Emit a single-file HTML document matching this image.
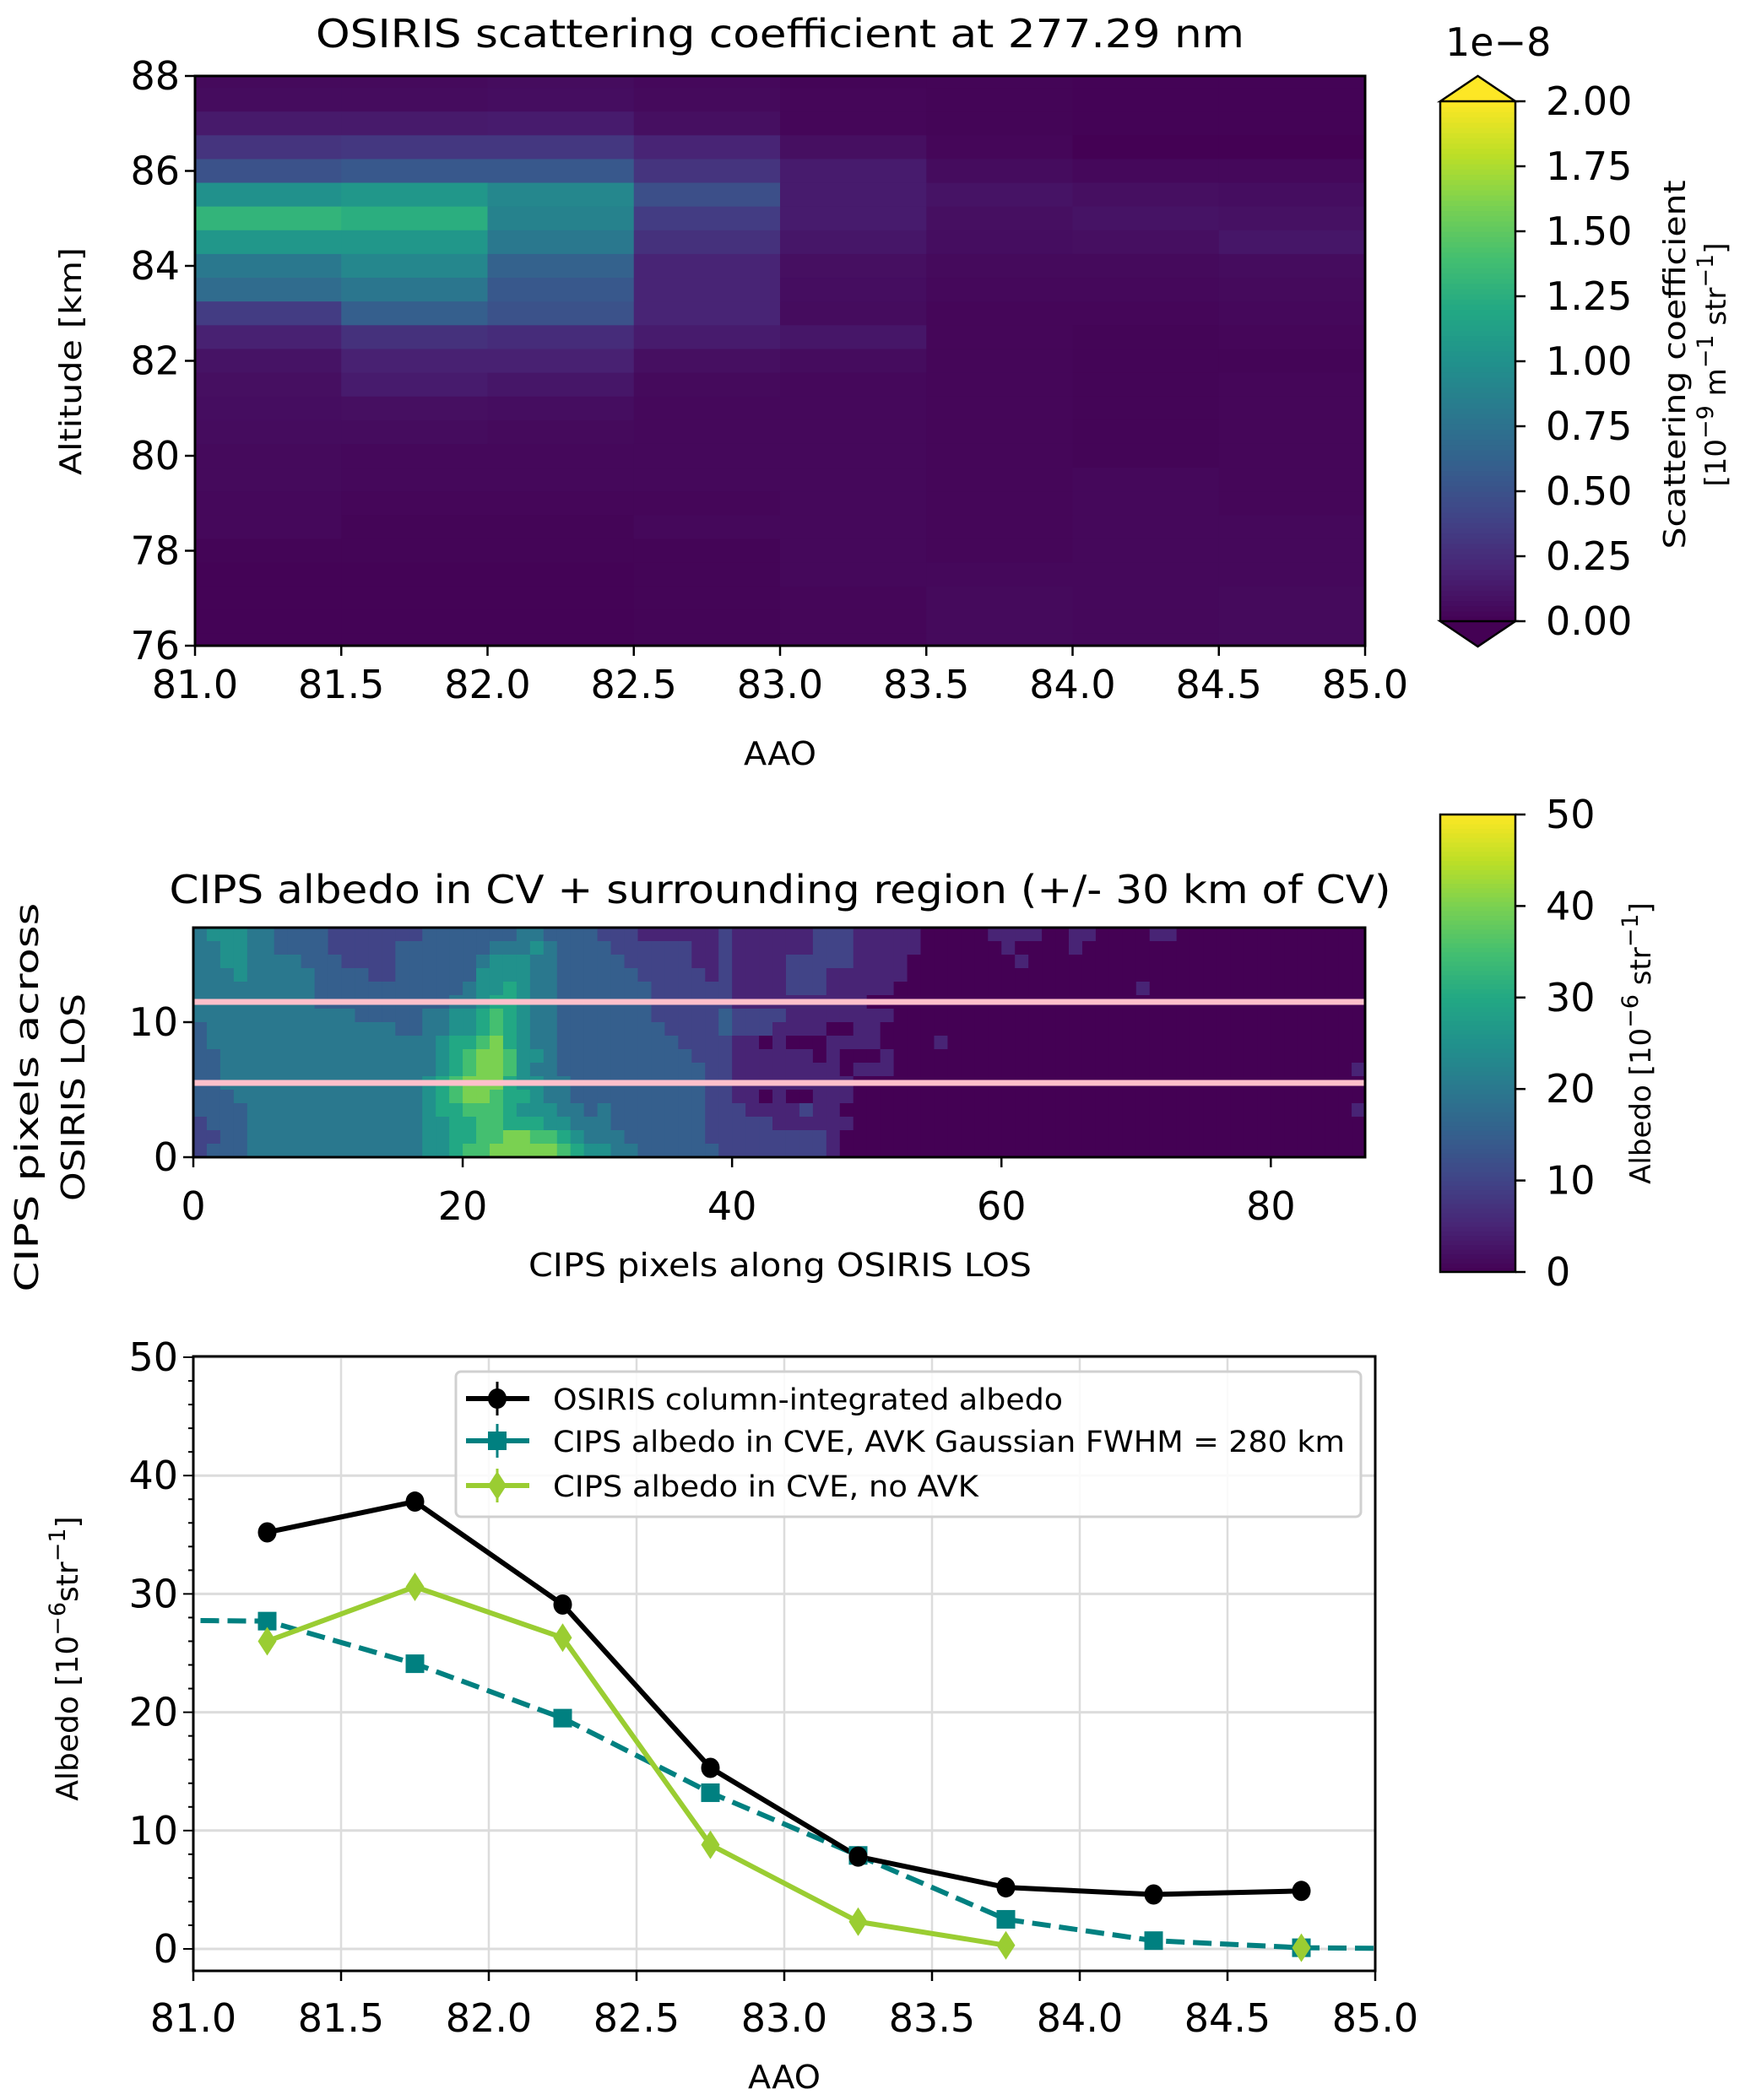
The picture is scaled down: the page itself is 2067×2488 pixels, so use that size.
<!DOCTYPE html>
<html><head><meta charset="utf-8">
<style>
html,body{margin:0;padding:0;background:#fff;}
svg{display:block;font-family:"DejaVu Sans","Liberation Sans",sans-serif;}
</style></head>
<body>
<svg id="fig" width="2067" height="2488" viewBox="0 0 2067 2488" xmlns="http://www.w3.org/2000/svg"></svg>
<script>
// ---------- DATA ----------
const topXEdges = [81.0,81.5,82.0,82.5,83.0,83.5,84.0,84.5,85.0];
const topAltEdges = [88,87.75,87.25,86.75,86.25,85.75,85.25,84.75,84.25,83.75,83.25,82.75,82.25,81.75,81.25,80.75,80.25,79.75,79.25,78.75,78.25,77.75,77.25,76.75,76.25,76];
const topValues = [
 [0.05,0.05,0.06,0.04,0.02,0.02,0.01,0.01],
 [0.06,0.06,0.07,0.05,0.03,0.02,0.01,0.01],
 [0.14,0.14,0.15,0.08,0.03,0.02,0.01,0.01],
 [0.30,0.32,0.32,0.20,0.08,0.03,0.00,0.00],
 [0.50,0.55,0.55,0.30,0.15,0.06,0.04,0.04],
 [1.00,1.05,0.92,0.48,0.15,0.10,0.08,0.07],
 [1.30,1.25,0.88,0.35,0.15,0.08,0.10,0.09],
 [1.05,1.05,0.80,0.28,0.12,0.07,0.08,0.12],
 [0.80,0.92,0.62,0.20,0.08,0.05,0.05,0.06],
 [0.70,0.78,0.55,0.20,0.07,0.04,0.04,0.05],
 [0.35,0.60,0.50,0.20,0.06,0.03,0.03,0.04],
 [0.18,0.28,0.25,0.15,0.12,0.03,0.02,0.03],
 [0.10,0.18,0.18,0.08,0.06,0.03,0.02,0.02],
 [0.08,0.15,0.12,0.05,0.04,0.03,0.02,0.03],
 [0.07,0.08,0.07,0.04,0.04,0.03,0.02,0.03],
 [0.06,0.06,0.05,0.04,0.04,0.03,0.02,0.03],
 [0.05,0.04,0.04,0.04,0.04,0.03,0.02,0.03],
 [0.05,0.04,0.04,0.04,0.04,0.03,0.04,0.03],
 [0.04,0.03,0.03,0.03,0.04,0.03,0.04,0.03],
 [0.04,0.02,0.02,0.04,0.04,0.03,0.04,0.04],
 [0.02,0.02,0.02,0.02,0.04,0.03,0.04,0.04],
 [0.01,0.01,0.01,0.02,0.04,0.04,0.04,0.04],
 [0.01,0.01,0.01,0.02,0.03,0.05,0.04,0.05],
 [0.01,0.01,0.01,0.02,0.03,0.05,0.04,0.05],
 [0.01,0.01,0.01,0.02,0.03,0.05,0.04,0.05]
];
const topCbTicks = ["0.00","0.25","0.50","0.75","1.00","1.25","1.50","1.75","2.00"];
const topXTicks = ["81.0","81.5","82.0","82.5","83.0","83.5","84.0","84.5","85.0"];
const topYTicks = [76,78,80,82,84,86,88];

// Mid heatmap: digit d means d*5 (10^-6 str^-1); rows from top (row 16) to bottom (row 0); 87 columns
const midRowsLeft = [
 "4555443333"+"2222222333"+"3333443333"+"222111111",
 "4455443333"+"2222233333"+"3344454333"+"322222211",
 "4455444433"+"3222233333"+"3455544333"+"332222211",
 "4445444443"+"3332233333"+"3555544333"+"333222221",
 "4444444443"+"3333333333"+"4556544333"+"333322222",
 "4444444443"+"3333333334"+"4566544333"+"333322222",
 "4444444444"+"4433333445"+"5676544333"+"333322222",
 "3444444444"+"4444433445"+"5676544333"+"333332222",
 "3444444444"+"4444444456"+"6786544333"+"333333222",
 "3344444444"+"4444444456"+"7887554333"+"333333322",
 "3344444444"+"4444444456"+"7887544333"+"333333332",
 "3344444444"+"4444444567"+"8886554433"+"333333332",
 "3334444444"+"4444444567"+"8876654433"+"333333332",
 "3333444444"+"4444444566"+"7776555443"+"433333332",
 "2333444444"+"4444444556"+"6776665544"+"433333332",
 "2233444444"+"4444444556"+"6778877654"+"443333332",
 "2333444444"+"4444444556"+"7788888765"+"544333333"
];
const midRowsRight = [
 "211111122211"+"111000001111"+"001100001100"+"000000000000",
 "211111122211"+"111000000100"+"001000000000"+"000000000000",
 "211112222211"+"110000000010"+"000000000000"+"000000000000",
 "211112221111"+"110000000000"+"000000000000"+"000000000000",
 "211112221111"+"100000000000"+"000000010000"+"000000000000",
 "211111111110"+"000000000000"+"000000000000"+"000000000000",
 "322221111111"+"100000000000"+"000000000000"+"000000000000",
 "322211110011"+"000000000000"+"000000000000"+"000000000000",
 "211010001111"+"000010000000"+"000000000000"+"000000000000",
 "211111101000"+"100000000000"+"000000000000"+"000000000000",
 "211111111011"+"100000000000"+"000000000000"+"000000000001",
 "211111111100"+"000000000000"+"000000000000"+"000000000000",
 "211010011100"+"000000000000"+"000000000000"+"000000000000",
 "221111211000"+"000000000000"+"000000000000"+"000000000001",
 "222211111100"+"000000000000"+"000000000000"+"000000000000",
 "222222221000"+"000000000000"+"000000000000"+"000000000000",
 "222222221000"+"000000000000"+"000000000000"+"000000000000"
];
const midXTicks = [0,20,40,60,80];
const midYTicks = [0,10];
const midCbTicks = [0,10,20,30,40,50];
const midPinkLines = [11.5,5.5];

// Bottom line chart
const aao = [81.25,81.75,82.25,82.75,83.25,83.75,84.25,84.75];
const osirisAlbedo = [35.2,37.8,29.1,15.3,7.8,5.2,4.6,4.9];
const cipsAvkX = [80.75,81.25,81.75,82.25,82.75,83.25,83.75,84.25,84.75,85.25];
const cipsAvk = [27.8,27.7,24.1,19.5,13.2,7.9,2.5,0.7,0.1,0.0];
const cipsNoAvk = [26.0,30.6,26.3,8.8,2.3,0.3,null,0.1];
const botXTicks = ["81.0","81.5","82.0","82.5","83.0","83.5","84.0","84.5","85.0"];
const botYTicks = [0,10,20,30,40,50];

// ---------- HELPERS ----------
const NS="http://www.w3.org/2000/svg";
const svg=document.getElementById('fig');
function mk(tag,attrs,parent){const e=document.createElementNS(NS,tag);for(const k in attrs)e.setAttribute(k,attrs[k]);(parent||svg).appendChild(e);return e;}
function txt(s,attrs,parent){const e=mk('text',attrs,parent);e.textContent=s;return e;}
const VIR=["#440154","#482475","#414487","#355f8d","#2a788e","#21918c","#22a884","#44bf70","#7ad151","#bddf26","#fde725"];
function hx(c){return [parseInt(c.substr(1,2),16),parseInt(c.substr(3,2),16),parseInt(c.substr(5,2),16)];}
function viridis(t){t=Math.max(0,Math.min(1,t));const p=t*10;const i=Math.min(9,Math.floor(p));const f=p-i;const a=hx(VIR[i]),b=hx(VIR[i+1]);
 return "rgb("+a.map((v,k)=>Math.round(v+(b[k]-v)*f)).join(",")+")";}
const TF=46;
const SUP='<tspan dy="-15" font-size="27">';

// ---------- TOP HEATMAP ----------
{
 const L=231,R=1617,T=90,B=765;
 const xs=v=>L+(v-81)/4*(R-L), ys=v=>B-(v-76)/12*(B-T);
 const g=mk('g',{});
 
 
 for(let r=0;r<topValues.length;r++){
  for(let c=0;c<topValues[r].length;c++){
   const x0=xs(topXEdges[c]),x1=xs(topXEdges[c+1]);
   const y0=ys(topAltEdges[r]),y1=ys(topAltEdges[r+1]);
   const cell=mk('rect',{x:x0,y:y0,width:x1-x0+0.6,height:y1-y0+0.6,fill:viridis(topValues[r][c]/2)},g);
   
   
  }
 }
 const fr=mk('rect',{x:L,y:T,width:R-L,height:B-T,fill:'none',stroke:'#000','stroke-width':3});
 
 topXTicks.forEach(t=>{const x=xs(+t);mk('line',{x1:x,y1:B,x2:x,y2:B+12,stroke:'#000','stroke-width':2.5});
  const e=txt(t,{x:x,y:B+62,'font-size':TF,'text-anchor':'middle'});});
 topYTicks.forEach(t=>{const y=ys(t);mk('line',{x1:L-12,y1:y,x2:L,y2:y,stroke:'#000','stroke-width':2.5});
  const e=txt(String(t),{x:L-18,y:y+16,'font-size':TF,'text-anchor':'end'});});
 let e=txt("OSIRIS scattering coefficient at 277.29 nm",{x:924,y:56,'font-size':46,'text-anchor':'middle',textLength:1100,lengthAdjust:'spacingAndGlyphs'});
 
 e=txt("AAO",{x:924,y:906,'font-size':38,'text-anchor':'middle',textLength:86,lengthAdjust:'spacingAndGlyphs'});
 
 e=txt("Altitude [km]",{x:0,y:0,'font-size':36,'text-anchor':'middle',textLength:270,lengthAdjust:'spacingAndGlyphs',transform:'translate(96,428) rotate(-90)'});
 
 const cL=1706,cR=1795,cT=120,cB=736;
 const cb=mk('g',{});
 const N=100;
 for(let i=0;i<N;i++){const y0=cB-(i+1)/N*(cB-cT);mk('rect',{x:cL,y:y0,width:cR-cL,height:(cB-cT)/N+0.8,fill:viridis((i+0.5)/N)},cb);}
 mk('polygon',{points:`${cL},${cT} ${(cL+cR)/2},90 ${cR},${cT}`,fill:viridis(1),stroke:'#000','stroke-width':2.5},cb);
 mk('polygon',{points:`${cL},${cB} ${(cL+cR)/2},766 ${cR},${cB}`,fill:viridis(0),stroke:'#000','stroke-width':2.5},cb);
 mk('line',{x1:cL,y1:cT,x2:cL,y2:cB,stroke:'#000','stroke-width':2.5},cb);
 mk('line',{x1:cR,y1:cT,x2:cR,y2:cB,stroke:'#000','stroke-width':2.5},cb);
 topCbTicks.forEach(t=>{const y=cB-(+t)/2*(cB-cT);mk('line',{x1:cR,y1:y,x2:cR+12,y2:y,stroke:'#000','stroke-width':2.5});
  const e=txt(t,{x:1831,y:y+16,'font-size':TF});});
 e=txt("1e\u22128",{x:1712,y:66,'font-size':TF});
 e=txt("Scattering coefficient",{x:0,y:0,'font-size':36,'text-anchor':'middle',textLength:437,lengthAdjust:'spacingAndGlyphs',transform:'translate(1996,432) rotate(-90)'});
 
 e=mk('text',{x:0,y:0,'font-size':34,'text-anchor':'middle',transform:'translate(2044,432) rotate(-90)'});
 e.innerHTML='[10'+SUP+'\u22129</tspan><tspan dy="15"> m</tspan>'+SUP+'\u22121</tspan><tspan dy="15"> str</tspan>'+SUP+'\u22121</tspan><tspan dy="15">]</tspan>';
 
}

// ---------- MID HEATMAP ----------
{
 const L=229,R=1617,T=1099,B=1371;
 const xs=v=>L+v/87*(R-L), ys=v=>B-v/17*(B-T);
 const g=mk('g',{});
 for(let r=0;r<17;r++){
  const row=midRowsLeft[r]+midRowsRight[r];
  const yi=16-r;
  for(let c=0;c<row.length;c++){
   const v=(+row[c])*5;
   const cell=mk('rect',{x:xs(c),y:ys(yi+1),width:xs(c+1)-xs(c)+0.6,height:ys(yi)-ys(yi+1)+0.6,fill:viridis(v/50)},g);
   
   
  }
 }
 midPinkLines.forEach(p=>{const l=mk('line',{x1:L,y1:ys(p),x2:R,y2:ys(p),stroke:'#ffc0cb','stroke-width':7});
  });
 const fr=mk('rect',{x:L,y:T,width:R-L,height:B-T,fill:'none',stroke:'#000','stroke-width':3});
 
 midXTicks.forEach(t=>{const x=xs(t);mk('line',{x1:x,y1:B,x2:x,y2:B+12,stroke:'#000','stroke-width':2.5});
  const e=txt(String(t),{x:x,y:B+74,'font-size':TF,'text-anchor':'middle'});});
 midYTicks.forEach(t=>{const y=ys(t);mk('line',{x1:L-12,y1:y,x2:L,y2:y,stroke:'#000','stroke-width':2.5});
  const e=txt(String(t),{x:L-18,y:y+16,'font-size':TF,'text-anchor':'end'});});
 let e=txt("CIPS albedo in CV + surrounding region (+/- 30 km of CV)",{x:924,y:1070,'font-size':46,'text-anchor':'middle',textLength:1447,lengthAdjust:'spacingAndGlyphs'});
 
 e=txt("CIPS pixels along OSIRIS LOS",{x:924,y:1512,'font-size':38,'text-anchor':'middle',textLength:596,lengthAdjust:'spacingAndGlyphs'});
 
 e=txt("CIPS pixels across",{x:0,y:0,'font-size':38,'text-anchor':'middle',textLength:461,lengthAdjust:'spacingAndGlyphs',transform:'translate(45,1300) rotate(-90)'});
 
 e=txt("OSIRIS LOS",{x:0,y:0,'font-size':38,'text-anchor':'middle',textLength:246,lengthAdjust:'spacingAndGlyphs',transform:'translate(100,1300) rotate(-90)'});
 
 const cL=1706,cR=1795,cT=965,cB=1507;
 const cb=mk('g',{});
 const N=100;
 for(let i=0;i<N;i++){const y0=cB-(i+1)/N*(cB-cT);mk('rect',{x:cL,y:y0,width:cR-cL,height:(cB-cT)/N+0.8,fill:viridis((i+0.5)/N)},cb);}
 mk('rect',{x:cL,y:cT,width:cR-cL,height:cB-cT,fill:'none',stroke:'#000','stroke-width':2.5},cb);
 midCbTicks.forEach(t=>{const y=cB-t/50*(cB-cT);mk('line',{x1:cR,y1:y,x2:cR+12,y2:y,stroke:'#000','stroke-width':2.5});
  const e=txt(String(t),{x:1831,y:y+16,'font-size':TF});});
 e=mk('text',{x:0,y:0,'font-size':34,'text-anchor':'middle',transform:'translate(1955,1236) rotate(-90)'});
 e.innerHTML='Albedo [10'+SUP+'\u22126</tspan><tspan dy="15"> str</tspan>'+SUP+'\u22121</tspan><tspan dy="15">]</tspan>';
 
}

// ---------- BOTTOM LINE CHART ----------
{
 const L=229,R=1629,T=1607,B=2335;
 const xs=v=>L+(v-81)/4*(R-L), ys=v=>2309-v*14.02;
 mk('defs',{}).innerHTML='<clipPath id="botclip"><rect x="'+L+'" y="'+T+'" width="'+(R-L)+'" height="'+(B-T)+'"/></clipPath>';
 botXTicks.forEach(t=>{const x=xs(+t);const l=mk('line',{x1:x,y1:T,x2:x,y2:B,stroke:'#dcdcdc','stroke-width':2.5});
  });
 botYTicks.forEach(t=>{const y=ys(t);const l=mk('line',{x1:L,y1:y,x2:R,y2:y,stroke:'#dcdcdc','stroke-width':3});
  });
 const g=mk('g',{'clip-path':'url(#botclip)'});
 function poly(xv,yv,color,dash,name){
  let segs=[],cur=[];
  for(let i=0;i<yv.length;i++){if(yv[i]==null){if(cur.length)segs.push(cur);cur=[];}else cur.push(xs(xv[i])+','+ys(yv[i]));}
  if(cur.length)segs.push(cur);
  segs.forEach(s=>{if(s.length<2)return;const p=mk('polyline',{points:s.join(' '),fill:'none',stroke:color,'stroke-width':6,'stroke-dasharray':dash||'none','stroke-linejoin':'round'},g);
   });
 }
 poly(cipsAvkX,cipsAvk,'#008080','22,10','cips-avk-line');
 poly(aao,osirisAlbedo,'#000000',null,'osiris-line');
 poly(aao,cipsNoAvk,'#9acd32',null,'cips-no-avk-line');
 cipsAvkX.forEach((x,i)=>{const m=mk('rect',{x:xs(x)-11,y:ys(cipsAvk[i])-11,width:22,height:22,fill:'#008080'},g);
  });
 aao.forEach((x,i)=>{const m=mk('ellipse',{cx:xs(x),cy:ys(osirisAlbedo[i]),rx:11,ry:12,fill:'#000'},g);
  });
 aao.forEach((x,i)=>{if(cipsNoAvk[i]==null)return;const cx=xs(x),cy=ys(cipsNoAvk[i]);
  const m=mk('polygon',{points:`${cx},${cy-17} ${cx+11},${cy} ${cx},${cy+17} ${cx-11},${cy}`,fill:'#9acd32'},g);
  });
 const fr=mk('rect',{x:L,y:T,width:R-L,height:B-T,fill:'none',stroke:'#000','stroke-width':3});
 
 botXTicks.forEach(t=>{const x=xs(+t);mk('line',{x1:x,y1:B,x2:x,y2:B+12,stroke:'#000','stroke-width':2.5});
  const e=txt(t,{x:x,y:B+72,'font-size':TF,'text-anchor':'middle'});});
 for(let v=0;v<=50;v+=2){const y=ys(v);mk('line',{x1:L-(v%10===0?12:6),y1:y,x2:L,y2:y,stroke:'#000','stroke-width':2});}
 botYTicks.forEach(t=>{const y=ys(t);
  const e=txt(String(t),{x:L-18,y:y+16,'font-size':TF,'text-anchor':'end'});});
 let e=txt("AAO",{x:929,y:2474,'font-size':38,'text-anchor':'middle',textLength:86,lengthAdjust:'spacingAndGlyphs'});
 
 e=mk('text',{x:0,y:0,'font-size':36,'text-anchor':'middle',transform:'translate(92,1965) rotate(-90)'});
 e.innerHTML='Albedo [10'+SUP+'\u22126</tspan><tspan dy="15">str</tspan>'+SUP+'\u22121</tspan><tspan dy="15">]</tspan>';
 
 const lg=mk('g',{});
 mk('rect',{x:540,y:1625,width:1072,height:172,rx:6,fill:'rgba(255,255,255,0.85)',stroke:'#d0d0d0','stroke-width':3},lg);
 const entries=[["OSIRIS column-integrated albedo",'#000','c',1657,604],["CIPS albedo in CVE, AVK Gaussian FWHM = 280 km",'#008080','s',1707,938],["CIPS albedo in CVE, no AVK",'#9acd32','d',1760,504]];
 entries.forEach(en=>{const y=en[3];const eg=mk('g',{},lg);
  
  mk('line',{x1:552,y1:y,x2:627,y2:y,stroke:en[1],'stroke-width':6},eg);
  mk('line',{x1:589,y1:y-20,x2:589,y2:y+20,stroke:en[1],'stroke-width':3},eg);
  if(en[2]==='c')mk('ellipse',{cx:589,cy:y,rx:11,ry:12,fill:en[1]},eg);
  if(en[2]==='s')mk('rect',{x:578,y:y-11,width:22,height:22,fill:en[1]},eg);
  if(en[2]==='d')mk('polygon',{points:`589,${y-17} 600,${y} 589,${y+17} 578,${y}`,fill:en[1]},eg);
  txt(en[0],{x:655,y:y+13,'font-size':35,textLength:en[4],lengthAdjust:'spacingAndGlyphs'},eg);});
}
</script>
</body></html>
